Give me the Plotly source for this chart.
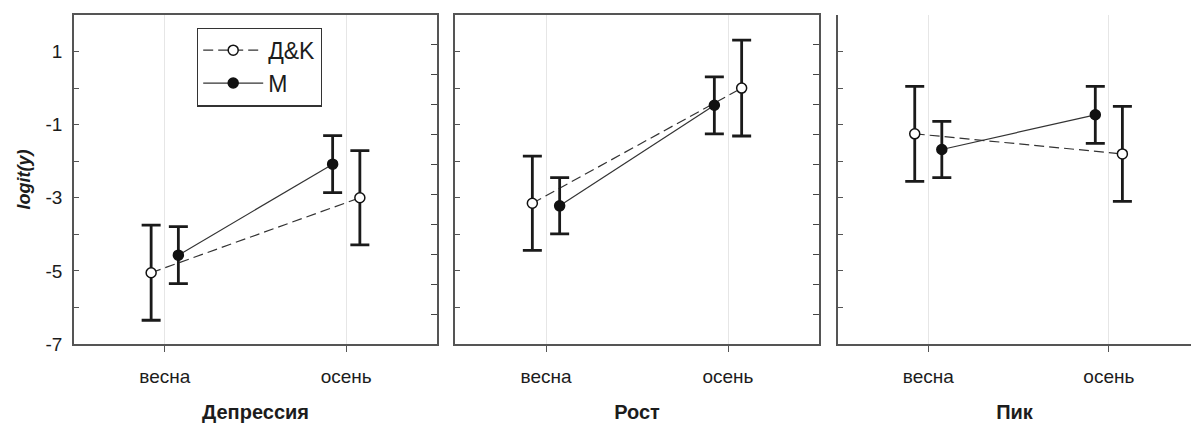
import plotly.graph_objects as go

categories = ["весна", "осень"]
panel_titles = ["Депрессия", "Рост", "Пик"]
series_names = ["Д&K", "M"]

dk_depr = [-5.05, -3.00]
dk_depr_err = [1.30, 1.29]
m_depr = [-4.57, -2.08]
m_depr_err = [0.78, 0.78]

dk_rost = [-3.15, 0.00]
dk_rost_err = [1.29, 1.31]
m_rost = [-3.22, -0.47]
m_rost_err = [0.77, 0.78]

dk_pik = [-1.25, -1.80]
dk_pik_err = [1.30, 1.30]
m_pik = [-1.68, -0.73]
m_pik_err = [0.77, 0.78]

y_tick_vals = [-7, -6, -5, -4, -3, -2, -1, 0, 1, 2]
y_tick_text = ["-7", "", "-5", "", "-3", "", "-1", "", "1", ""]
right_tick_vals = list(range(12))

dk_panels = [(dk_depr, dk_depr_err), (dk_rost, dk_rost_err), (dk_pik, dk_pik_err)]
m_panels = [(m_depr, m_depr_err), (m_rost, m_rost_err), (m_pik, m_pik_err)]

W, H = 1191, 423
FONT = "Liberation Sans, Arial, sans-serif"
INK = "#1c1c1c"
AXC = "#555555"

domains = [[74 / W, 437 / W], [455 / W, 819 / W], [838 / W, 1.0]]
xranges = [[-0.5, 1.5], [-0.5, 1.5], [-0.5, 1.455]]
off_dk = [-0.075, 0.075]
off_m = [0.075, -0.075]

fig = go.Figure()
for i in range(3):
    xa = "x" if i == 0 else f"x{i+1}"
    ya = "y" if i == 0 else f"y{i+1}"
    dvals, derr = dk_panels[i]
    mvals, merr = m_panels[i]
    # placeholder trace so the right-hand tick axis is drawn
    fig.add_trace(go.Scatter(x=[None], y=[None], xaxis=xa, yaxis=f"y{i+4}",
                             mode="markers", showlegend=False, hoverinfo="skip"))
    fig.add_trace(go.Scatter(
        x=[k + off_dk[k] for k in range(len(categories))], y=dvals,
        xaxis=xa, yaxis=ya, name=series_names[0], showlegend=(i == 0),
        mode="lines+markers",
        line=dict(color="#333333", width=1.2, dash="10px,5px"),
        marker=dict(symbol="circle", size=10, color="white",
                    line=dict(color="#111111", width=1.5)),
        error_y=dict(type="data", array=derr, visible=True, color="#1a1a1a",
                     thickness=2.8, width=9.5),
    ))
    fig.add_trace(go.Scatter(
        x=[k + off_m[k] for k in range(len(categories))], y=mvals,
        xaxis=xa, yaxis=ya, name=series_names[1], showlegend=(i == 0),
        mode="lines+markers",
        line=dict(color="#333333", width=1.2),
        marker=dict(symbol="circle", size=10, color="#111111",
                    line=dict(color="#111111", width=1.5)),
        error_y=dict(type="data", array=merr, visible=True, color="#1a1a1a",
                     thickness=2.8, width=9.5),
    ))

layout = dict(
    width=W, height=H,
    margin=dict(l=0, r=0, t=15, b=79, autoexpand=False),
    paper_bgcolor="white", plot_bgcolor="white",
    font=dict(family=FONT, size=19, color=INK),
    showlegend=True,
    legend=dict(x=197 / W, y=0.962, xanchor="left", yanchor="top",
                bordercolor="#333333", borderwidth=1.2, bgcolor="white",
                font=dict(size=23, color=INK, family=FONT),
                itemwidth=60, tracegroupgap=0),
)

for i in range(3):
    sx = "" if i == 0 else str(i + 1)
    layout[f"xaxis{sx}"] = dict(
        domain=domains[i], range=xranges[i], anchor="y" + sx,
        tickmode="array", tickvals=[0, 1], ticktext=categories,
        ticks="outside", ticklen=6, tickwidth=1.3, tickcolor=AXC,
        showgrid=True, gridcolor="#e6e6e6", gridwidth=1,
        showline=True, linecolor=AXC, linewidth=1.5,
        mirror=(i < 2), zeroline=False, automargin=False,
        tickfont=dict(size=19), ticklabelstandoff=8,
        title=dict(text=f"<b>{panel_titles[i]}</b>", standoff=20,
                   font=dict(size=20)),
    )
    layout[f"yaxis{sx}"] = dict(
        domain=[0, 1], range=[-7, 2], anchor="x" + sx,
        tickmode="array", tickvals=y_tick_vals, ticktext=y_tick_text,
        ticks="inside", ticklen=5, tickwidth=1.2, tickcolor=AXC,
        showticklabels=(i == 0), showgrid=False, zeroline=False,
        showline=True, linecolor=AXC, linewidth=1.5, mirror=(i < 2),
        tickfont=dict(size=19), ticklabelstandoff=6, automargin=False,
    )
    layout[f"yaxis{i+4}"] = dict(
        visible=True, overlaying="y" + sx, anchor="x" + sx, side="right",
        range=[0, 11], tickmode="array", tickvals=right_tick_vals,
        ticks=("inside" if i < 2 else ""), ticklen=6, tickwidth=1.3,
        tickcolor="#444444",
        showticklabels=False, showgrid=False, zeroline=False,
        showline=(i < 2), linecolor=AXC, linewidth=1.5,
        automargin=False,
    )

layout["yaxis"]["title"] = dict(text="<b><i>logit(y)</i></b>", standoff=10,
                                font=dict(size=18))

fig.update_layout(**layout)
fig.write_html("out.html", config={"displayModeBar": False},
               post_script="document.body.style.margin='0px';document.body.style.padding='0px';")
